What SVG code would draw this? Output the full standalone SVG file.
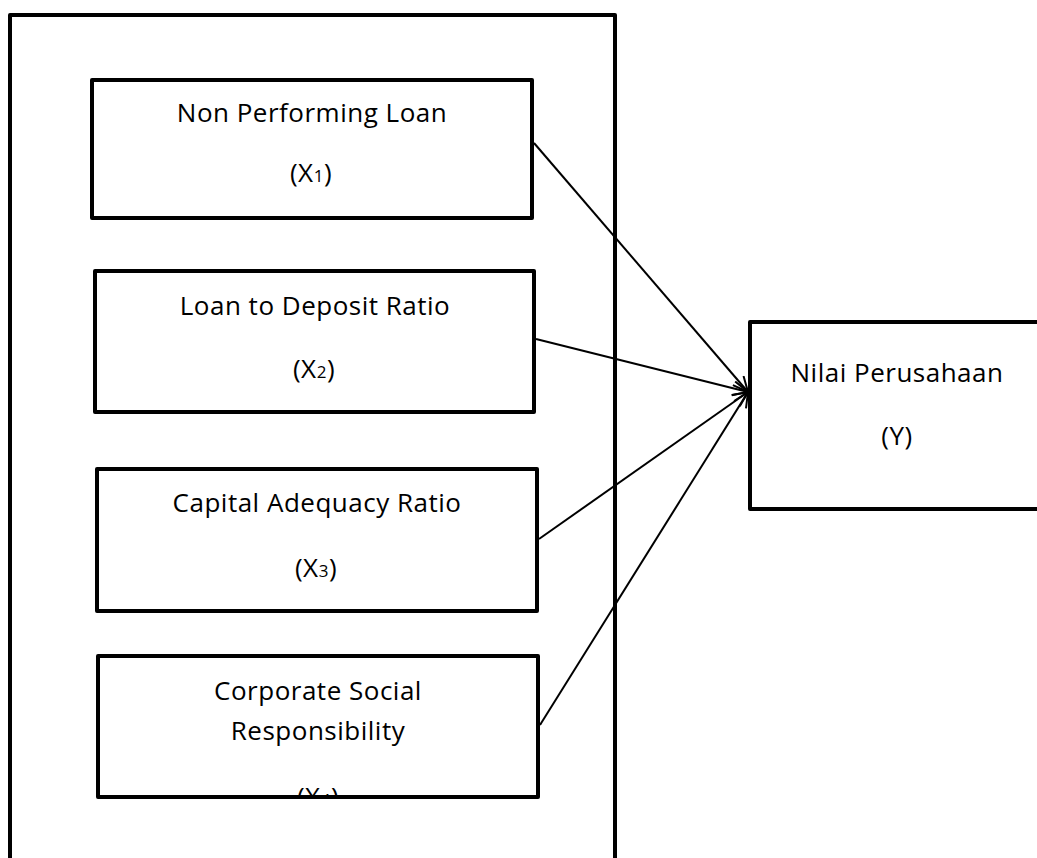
<svg xmlns="http://www.w3.org/2000/svg" width="1037" height="858" viewBox="0 0 1037 858">
<style>
.box{fill:#fff;stroke:#000;stroke-width:4;stroke-linejoin:round}
.t{font-family:"Open Sans","Noto Sans","Liberation Sans",sans-serif;font-size:26px;letter-spacing:0.5px;fill:#000;text-anchor:middle}
.sub{font-size:17px}
.conn{stroke:#000;stroke-width:2;fill:none}
</style>
<defs>
<marker id="ah" markerUnits="userSpaceOnUse" markerWidth="20" markerHeight="20" refX="16" refY="8" orient="auto">
<path d="M1,1 L16,8 L1,15" fill="none" stroke="#000" stroke-width="2"/>
</marker>
<clipPath id="c4"><rect x="98" y="655" width="440" height="141"/></clipPath>
</defs>
<rect width="1037" height="858" fill="#fff"/>
<g id="outer"><rect class="box" x="10" y="15" width="605" height="900" fill="none"/></g>
<g id="x1">
<rect class="box" x="92" y="80" width="440" height="138"/>
<text class="t" x="312" y="122">Non Performing Loan</text>
<text class="t" x="311" y="182">(X<tspan class="sub">1</tspan>)</text>
</g>
<g id="x2">
<rect class="box" x="95" y="271" width="439" height="141"/>
<text class="t" x="315" y="315">Loan to Deposit Ratio</text>
<text class="t" x="314" y="378">(X<tspan class="sub">2</tspan>)</text>
</g>
<g id="x3">
<rect class="box" x="97" y="469" width="440" height="142"/>
<text class="t" x="317" y="512">Capital Adequacy Ratio</text>
<text class="t" x="316" y="577">(X<tspan class="sub">3</tspan>)</text>
</g>
<g id="x4">
<rect class="box" x="98" y="656" width="440" height="141"/>
<text class="t" x="318" y="700">Corporate Social</text>
<text class="t" x="318" y="740">Responsibility</text>
<text class="t" x="318" y="806" clip-path="url(#c4)">(X<tspan class="sub">4</tspan>)</text>
</g>
<g id="y">
<rect class="box" x="750" y="322" width="320" height="187"/>
<text class="t" x="897" y="382">Nilai Perusahaan</text>
<text class="t" x="897" y="445">(Y)</text>
</g>
<g id="connectors">
<line class="conn" x1="534" y1="143" x2="748" y2="392" marker-end="url(#ah)"/>
<line class="conn" x1="536" y1="339" x2="748" y2="392" marker-end="url(#ah)"/>
<line class="conn" x1="539" y1="539" x2="748" y2="392" marker-end="url(#ah)"/>
<line class="conn" x1="540" y1="725" x2="748" y2="392" marker-end="url(#ah)"/>
</g>
</svg>
